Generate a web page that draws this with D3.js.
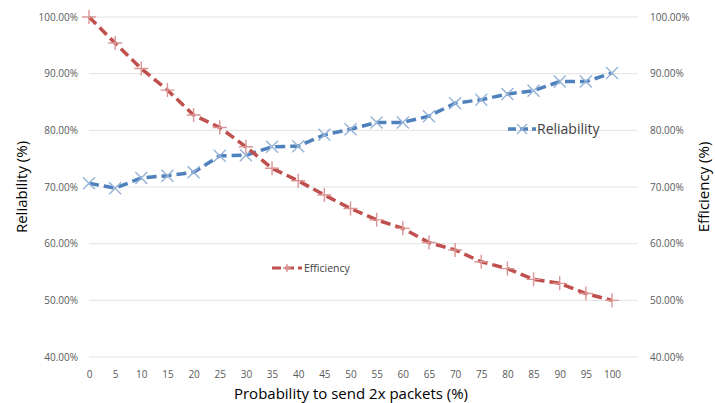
<!DOCTYPE html>
<html>
<head>
<meta charset="utf-8">
<script src="https://cdn.jsdelivr.net/npm/d3@7"></script>
<style>
  body { margin: 0; background: #fff; }
  text { font-family: "Open Sans", Lato, sans-serif; }
</style>
</head>
<body>
<div id="chart"></div>
<script>
const categories = ["0","5","10","15","20","25","30","35","40","45","50","55","60","65","70","75","80","85","90","95","100"];
const reliability = [70.65, 69.8, 71.6, 72.0, 72.6, 75.5, 75.6, 77.1, 77.2, 79.2, 80.2, 81.4, 81.4, 82.5, 84.8, 85.4, 86.4, 87.0, 88.6, 88.6, 90.1];
const efficiency = [100, 95.4, 90.9, 87.1, 82.7, 80.5, 77.1, 73.3, 71.1, 68.6, 66.2, 64.2, 62.7, 60.2, 58.9, 56.8, 55.6, 53.7, 53.0, 51.2, 50.0];
const yTicks = [40, 50, 60, 70, 80, 90, 100];

const W = 715, H = 403;
const svg = d3.select("#chart").append("svg")
  .attr("width", W).attr("height", H);

const x = d3.scalePoint().domain(categories).range([89, 612]);
const y = d3.scaleLinear().domain([40, 100]).range([357, 17]);
const gridX = [89, 638];

const blue = "#4f81bd", blueLight = "#95b3d7";
const red = "#c0504d", redLight = "#d99694";

// gridlines
svg.append("g").selectAll("line").data(yTicks).join("line")
  .attr("x1", gridX[0]).attr("x2", gridX[1])
  .attr("y1", d => y(d)).attr("y2", d => y(d))
  .attr("stroke", "#e3e3e3").attr("stroke-width", 1);

const fmt = d => d.toFixed(2) + "%";

// left axis
const left = svg.append("g").attr("transform", "translate(80,0)")
  .call(d3.axisLeft(y).tickValues(yTicks).tickFormat(fmt).tickSize(0).tickPadding(2));
left.select(".domain").remove();
left.selectAll("text").attr("fill", "#595959").style("font-size", "10px");

// right axis
const right = svg.append("g").attr("transform", "translate(647,0)")
  .call(d3.axisRight(y).tickValues(yTicks).tickFormat(fmt).tickSize(0).tickPadding(3));
right.select(".domain").remove();
right.selectAll("text").attr("fill", "#595959").style("font-size", "10px");

// bottom axis
const bottom = svg.append("g").attr("transform", "translate(0,367)")
  .call(d3.axisBottom(x).tickSize(0).tickPadding(4));
bottom.select(".domain").remove();
bottom.selectAll("text").attr("fill", "#595959").style("font-size", "10px");

// axis titles
svg.append("text")
  .attr("transform", `translate(27,${y(70)})rotate(-90)`)
  .attr("text-anchor", "middle")
  .style("font-size", "15px").attr("fill", "#000")
  .text("Reliability (%)");

svg.append("text")
  .attr("transform", `translate(709,${y(70)})rotate(-90)`)
  .attr("text-anchor", "middle")
  .style("font-size", "15px").attr("fill", "#000")
  .text("Efficiency (%)");

svg.append("text")
  .attr("x", 351).attr("y", 399)
  .attr("text-anchor", "middle")
  .style("font-size", "15px").attr("fill", "#000")
  .text("Probability to send 2x packets (%)");

const line = d3.line().x((d, i) => x(categories[i])).y(d => y(d));

function xMark(g, s, col) {
  g.append("path").attr("d", `M${-s},${-s}L${s},${s}M${-s},${s}L${s},${-s}`)
    .attr("stroke", col).attr("stroke-width", 1.4).attr("fill", "none");
}
function plusMark(g, s, col) {
  g.append("path").attr("d", `M${-s},0L${s},0M0,${-s}L0,${s}`)
    .attr("stroke", col).attr("stroke-width", 1.4).attr("fill", "none");
}

// Reliability series
svg.append("path").datum(reliability)
  .attr("d", line).attr("fill", "none")
  .attr("stroke", blue).attr("stroke-width", 3.5)
  .attr("stroke-dasharray", "10,5");
svg.append("g").selectAll("g").data(reliability).join("g")
  .attr("transform", (d, i) => `translate(${x(categories[i])},${y(d)})`)
  .each(function() { xMark(d3.select(this), 6, blueLight); });

// Efficiency series
svg.append("path").datum(efficiency)
  .attr("d", line).attr("fill", "none")
  .attr("stroke", red).attr("stroke-width", 3.5)
  .attr("stroke-dasharray", "10,5");
svg.append("g").selectAll("g").data(efficiency).join("g")
  .attr("transform", (d, i) => `translate(${x(categories[i])},${y(d)})`)
  .each(function() { plusMark(d3.select(this), 7, redLight); });

// legend: Reliability
const lr = svg.append("g").attr("transform", "translate(508,129)");
lr.append("line").attr("x1", 0).attr("x2", 28).attr("y1", 0).attr("y2", 0)
  .attr("stroke", blue).attr("stroke-width", 3.5).attr("stroke-dasharray", "8,4");
xMark(lr.append("g").attr("transform", "translate(14,0)"), 5, blueLight);
lr.append("text").attr("x", 29).attr("y", 0).attr("dy", "0.35em")
  .style("font-size", "14px").attr("fill", "#404040").text("Reliability");

// legend: Efficiency
const le = svg.append("g").attr("transform", "translate(272,268)");
le.append("line").attr("x1", 0).attr("x2", 30).attr("y1", 0).attr("y2", 0)
  .attr("stroke", red).attr("stroke-width", 3).attr("stroke-dasharray", "9,4");
plusMark(le.append("g").attr("transform", "translate(15,0)"), 4, redLight);
le.append("text").attr("x", 32).attr("y", 0).attr("dy", "0.35em")
  .style("font-size", "10.5px").attr("fill", "#404040").text("Efficiency");
</script>
</body>
</html>
